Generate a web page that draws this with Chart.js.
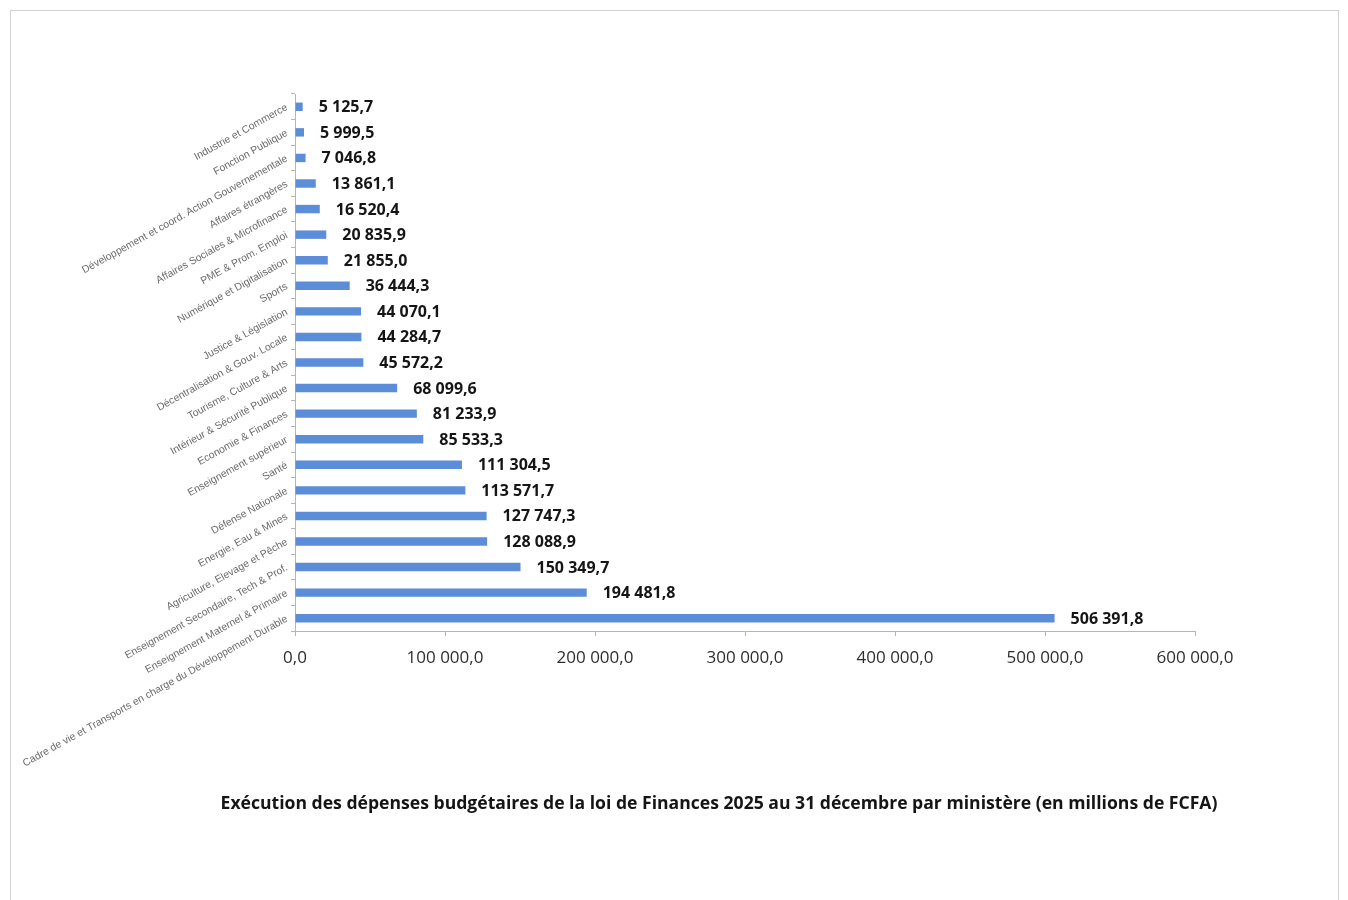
<!DOCTYPE html>
<html lang="fr">
<head>
<meta charset="utf-8">
<title>Exécution des dépenses budgétaires 2025 par ministère</title>
<script src="https://cdn.jsdelivr.net/npm/chart.js@4.4.1/dist/chart.umd.min.js"></script>
<style>
    html, body { margin: 0; padding: 0; background: #fff; }
    #frame {
        position: absolute; left: 10px; top: 10px; width: 1327px; height: 900px;
        border: 1px solid #d2d2d2; border-bottom: none;
    }
    #budgetChart { position: absolute; left: 0; top: 0; }
</style>
</head>
<body>
<div id="frame"></div>
<canvas id="budgetChart" width="1348" height="900"></canvas>
<script>
// Ministries, top to bottom as in the reference
const ministries = [
    'Industrie et Commerce',
    'Fonction Publique',
    'Développement et coord. Action Gouvernementale',
    'Affaires étrangères',
    'Affaires Sociales & Microfinance',
    'PME & Prom. Emploi',
    'Numérique et Digitalisation',
    'Sports',
    'Justice & Législation',
    'Décentralisation & Gouv. Locale',
    'Tourisme, Culture & Arts',
    'Intérieur & Sécurité Publique',
    'Economie & Finances',
    'Enseignement supérieur',
    'Santé',
    'Défense Nationale',
    'Energie, Eau & Mines',
    'Agriculture, Elevage et Pêche',
    'Enseignement Secondaire, Tech & Prof.',
    'Enseignement Maternel & Primaire',
    'Cadre de vie et Transports en charge du Développement Durable'
];

// Execution in millions of FCFA
const spending = [
    5125.7, 5999.5, 7046.8, 13861.1, 16520.4, 20835.9, 21855.0,
    36444.3, 44070.1, 44284.7, 45572.2, 68099.6, 81233.9, 85533.3,
    111304.5, 113571.7, 127747.3, 128088.9, 150349.7, 194481.8, 506391.8
];

const xTicks = [0, 100000, 200000, 300000, 400000, 500000, 600000];

const chartTitle = 'Exécution des dépenses budgétaires de la loi de Finances 2025 au 31 décembre par ministère (en millions de FCFA)';

/**
 * French number format: 506 391,8
 */
function formatFr(v) {
    const parts = v.toFixed(1).split('.');
    return parts[0].replace(/\B(?=(\d{3})+(?!\d))/g, ' ') + ',' + parts[1];
}

// Value labels right of each bar
const valueLabels = {
    id: 'valueLabels',
    afterDatasetsDraw(chart) {
        const ctx = chart.ctx;
        const meta = chart.getDatasetMeta(0);
        ctx.save();
        ctx.font = 'bold 16px "Open Sans"';
        ctx.fillStyle = '#151515';
        ctx.textBaseline = 'middle';
        ctx.textAlign = 'left';
        meta.data.forEach((bar, i) => {
            ctx.fillText(formatFr(spending[i]), bar.x + 16, bar.y + 1);
        });
        ctx.restore();
    }
};

// Caption under the chart (offset to the right like the original)
const caption = {
    id: 'caption',
    afterDraw(chart) {
        const ctx = chart.ctx;
        ctx.save();
        ctx.font = 'bold 17.6px "Open Sans"';
        ctx.fillStyle = '#151515';
        ctx.textAlign = 'center';
        ctx.textBaseline = 'middle';
        ctx.fillText(chartTitle, 719, 804);
        ctx.restore();
    }
};

new Chart(document.getElementById('budgetChart'), {
    type: 'bar',
    data: {
        labels: ministries,
        datasets: [{
            data: spending,
            backgroundColor: '#5b8dd8',
            barPercentage: 0.33,
            categoryPercentage: 1
        }]
    },
    options: {
        indexAxis: 'y',
        responsive: false,
        animation: false,
        layout: {
            padding: { left: 0, right: 153, top: 94, bottom: 219 }
        },
        plugins: {
            legend: { display: false },
            tooltip: { enabled: false },
            title: { display: false }
        },
        scales: {
            x: {
                min: 0,
                max: 600000,
                afterBuildTicks: scale => {
                    scale.ticks = xTicks.map(v => ({ value: v }));
                },
                afterFit: scale => { scale.height = 50; },
                grid: { drawOnChartArea: false, tickLength: 5, color: '#b5b5b5' },
                border: { color: '#b5b5b5' },
                ticks: {
                    padding: 12,
                    color: '#2e2e2e',
                    font: { family: '"Open Sans"', size: 17 },
                    callback: v => formatFr(v)
                }
            },
            y: {
                afterFit: scale => { scale.width = 295; },
                grid: { drawOnChartArea: false, tickLength: 4, color: '#b5b5b5' },
                border: { color: '#b5b5b5' },
                ticks: {
                    autoSkip: false,
                    minRotation: 29,
                    maxRotation: 29,
                    padding: 4,
                    color: '#6a6a6a',
                    font: { family: '"Liberation Sans"', size: 10.4 }
                }
            }
        }
    },
    plugins: [valueLabels, caption]
});
</script>
</body>
</html>
